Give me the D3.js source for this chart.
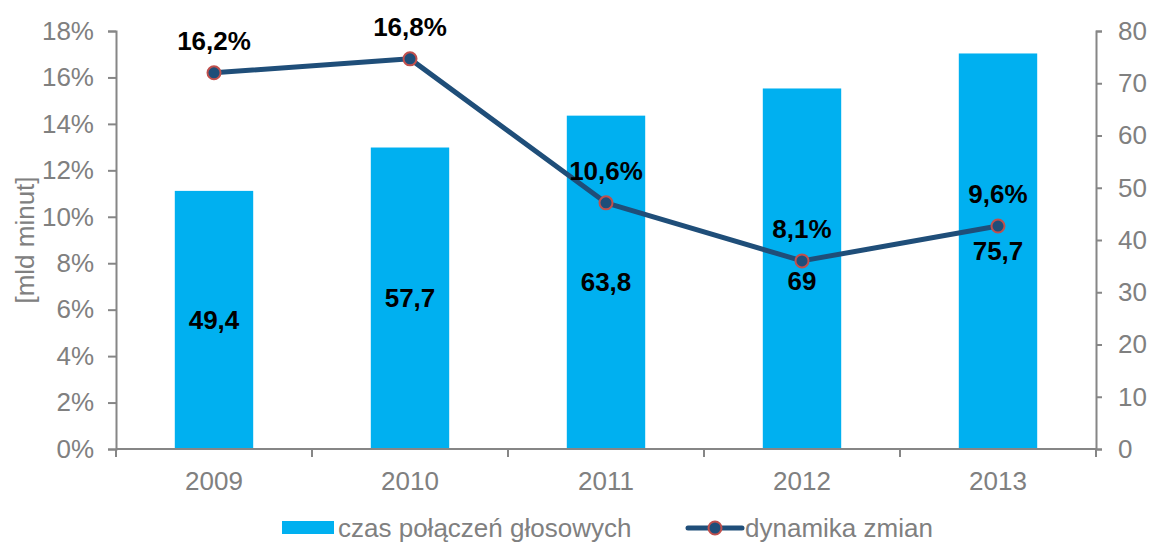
<!DOCTYPE html>
<html>
<head>
<meta charset="utf-8">
<script src="https://cdn.jsdelivr.net/npm/d3@7"></script>
<style>
  body { margin: 0; background: #fff; }
  text { font-family: "Liberation Sans", Arial, sans-serif; }
</style>
</head>
<body>
<div id="viz-container"></div>
<script>
// data
let years = ["2009", "2010", "2011", "2012", "2013"];
let minutes = [49.4, 57.7, 63.8, 69, 75.7];          // czas połączeń głosowych [mld minut]
let growth = [16.2, 16.8, 10.6, 8.1, 9.6];            // dynamika zmian [%]
let leftTicks = [0, 2, 4, 6, 8, 10, 12, 14, 16, 18];
let rightTicks = [0, 10, 20, 30, 40, 50, 60, 70, 80];

let W = 1151, H = 542;
let plotLeft = 116, plotRight = 1096, plotTop = 31, plotBottom = 449;
let grey = "#808080", axisGrey = "#868686";
let barColor = "#00b0f0", lineColor = "#1f4e79", markerStroke = "#c0504d";
let comma = v => String(v).replace(".", ",");

let viz = d3.select("#viz-container")
  .append("svg")
    .attr("width", W)
    .attr("height", H)
;

let x = d3.scaleBand().domain(years).range([plotLeft, plotRight]).paddingInner(0).paddingOuter(0);
let yPct = d3.scaleLinear().domain([0, 18]).range([plotBottom, plotTop]);
let yVal = d3.scaleLinear().domain([0, 80]).range([plotBottom, plotTop]);
let barW = x.bandwidth() * 0.4;

// bars
viz.selectAll(".bar")
  .data(minutes)
  .enter()
  .append("rect")
    .attr("class", "bar")
    .attr("x", (d, i) => x(years[i]) + x.bandwidth() / 2 - barW / 2)
    .attr("y", d => yVal(d))
    .attr("width", barW)
    .attr("height", d => plotBottom - yVal(d))
    .attr("fill", barColor)
;

// axes
let styleAxis = g => {
  g.select(".domain").attr("stroke", axisGrey).attr("stroke-width", 2);
  g.selectAll(".tick line").attr("stroke", axisGrey).attr("stroke-width", 2);
  g.selectAll(".tick text").attr("fill", grey).attr("font-size", 26)
    .attr("font-family", "'Liberation Sans', Arial, sans-serif");
};

viz.append("g")
  .attr("transform", `translate(${plotLeft},0)`)
  .call(d3.axisLeft(yPct).tickValues(leftTicks).tickFormat(d => d + "%").tickSize(8).tickPadding(14).tickSizeOuter(8))
  .call(styleAxis);

viz.append("g")
  .attr("transform", `translate(${plotRight},0)`)
  .call(d3.axisRight(yVal).tickValues(rightTicks).tickSize(6).tickPadding(16).tickSizeOuter(6))
  .call(styleAxis);

// category axis: ticks on band boundaries
let xAxis = viz.append("g").attr("transform", `translate(0,${plotBottom})`);
xAxis.append("line")
  .attr("x1", plotLeft).attr("x2", plotRight)
  .attr("stroke", axisGrey).attr("stroke-width", 2);
xAxis.selectAll(".xtick")
  .data(years.concat([null]))
  .enter()
  .append("line")
    .attr("x1", (d, i) => plotLeft + i * x.bandwidth())
    .attr("x2", (d, i) => plotLeft + i * x.bandwidth())
    .attr("y1", 0).attr("y2", 8)
    .attr("stroke", axisGrey).attr("stroke-width", 2);
xAxis.selectAll(".xlabel")
  .data(years)
  .enter()
  .append("text")
    .attr("x", d => x(d) + x.bandwidth() / 2)
    .attr("y", 32)
    .attr("dominant-baseline", "central")
    .attr("text-anchor", "middle")
    .attr("fill", grey)
    .attr("font-size", 26)
    .text(d => d);

// axis title
viz.append("text")
  .attr("transform", `translate(25,${(plotTop + plotBottom) / 2}) rotate(-90)`)
  .attr("text-anchor", "middle")
  .attr("dominant-baseline", "central")
  .attr("fill", grey)
  .attr("font-size", 26)
  .text("[mld minut]");

// line
let cx = (d, i) => x(years[i]) + x.bandwidth() / 2;
let line = d3.line().x(cx).y(d => yPct(d));
viz.append("path")
  .datum(growth)
  .attr("d", line)
  .attr("fill", "none")
  .attr("stroke", lineColor)
  .attr("stroke-width", 5)
  .attr("stroke-linejoin", "round");

viz.selectAll(".dot")
  .data(growth)
  .enter()
  .append("circle")
    .attr("cx", cx)
    .attr("cy", d => yPct(d))
    .attr("r", 6.5)
    .attr("fill", lineColor)
    .attr("stroke", markerStroke)
    .attr("stroke-width", 2);

// line labels
viz.selectAll(".pctlabel")
  .data(growth)
  .enter()
  .append("text")
    .attr("x", cx)
    .attr("y", d => yPct(d) - 32)
    .attr("text-anchor", "middle")
    .attr("dominant-baseline", "central")
    .attr("font-size", 26)
    .attr("font-weight", "bold")
    .attr("fill", "#000")
    .text(d => comma(d) + "%");

// bar labels: centred in bar, pushed under the marker if they would collide
viz.selectAll(".vallabel")
  .data(minutes)
  .enter()
  .append("text")
    .attr("x", cx)
    .attr("y", (d, i) => Math.max((yVal(d) + plotBottom) / 2, yPct(growth[i]) + 20))
    .attr("text-anchor", "middle")
    .attr("dominant-baseline", "central")
    .attr("font-size", 26)
    .attr("font-weight", "bold")
    .attr("fill", "#000")
    .text(d => comma(d));

// legend
let legend = viz.append("g").attr("transform", "translate(0,528)");
legend.append("rect")
  .attr("x", 282).attr("y", -7).attr("width", 52).attr("height", 13)
  .attr("fill", barColor);
legend.append("text")
  .attr("x", 338).attr("y", 0)
  .attr("dominant-baseline", "central")
  .attr("fill", grey).attr("font-size", 26)
  .text("czas połączeń głosowych");
legend.append("line")
  .attr("x1", 688).attr("x2", 742).attr("y1", 0).attr("y2", 0)
  .attr("stroke", lineColor).attr("stroke-width", 5).attr("stroke-linecap", "round");
legend.append("circle")
  .attr("cx", 715).attr("cy", 0).attr("r", 6.5)
  .attr("fill", lineColor).attr("stroke", markerStroke).attr("stroke-width", 2);
legend.append("text")
  .attr("x", 745).attr("y", 0)
  .attr("dominant-baseline", "central")
  .attr("fill", grey).attr("font-size", 26)
  .text("dynamika zmian");
</script>
</body>
</html>
